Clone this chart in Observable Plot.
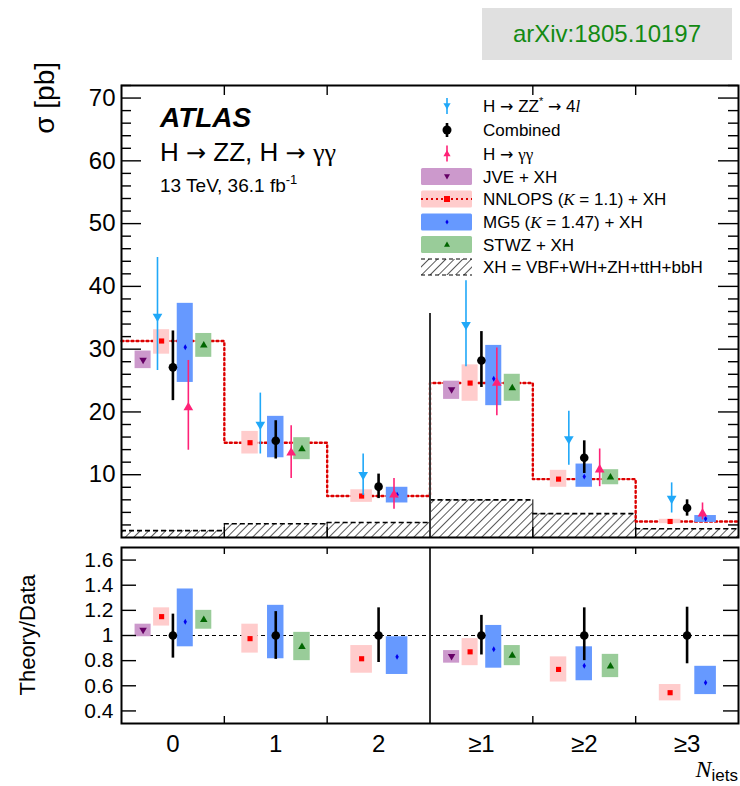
<!DOCTYPE html>
<html><head><meta charset="utf-8">
<script src="https://cdn.jsdelivr.net/npm/d3@7"></script>
<script src="https://cdn.jsdelivr.net/npm/@observablehq/plot@0.6"></script>
<style>
html,body{margin:0;padding:0;background:#fff;}
#wrap{position:relative;width:740px;height:786px;font-family:"Liberation Sans",Arial,sans-serif;overflow:hidden;background:#fff;}
#main{position:absolute;left:0;top:0;}
#ratio{position:absolute;left:0;top:542px;}
#overlay{position:absolute;left:0;top:0;pointer-events:none;}
#arxiv{position:absolute;left:482px;top:8px;width:250px;height:52px;background:#e0e0e0;color:#138a13;font-size:24px;display:flex;align-items:center;justify-content:center;}
</style></head>
<body>
<div id="wrap">
<div id="main"></div>
<div id="ratio"></div>
<svg id="overlay" width="740" height="786" xmlns="http://www.w3.org/2000/svg" font-family="'Liberation Sans', Arial, sans-serif">
<defs><pattern id="hatchL" patternUnits="userSpaceOnUse" width="6" height="6" patternTransform="rotate(45)"><line x1="0" y1="0" x2="0" y2="6" stroke="#000" stroke-width="1.3"/></pattern></defs>
<text transform="translate(54,62) rotate(-90)" text-anchor="end" font-size="28">σ [pb]</text>
<text transform="translate(35,635) rotate(-90)" text-anchor="middle" font-size="22">Theory/Data</text>
<text x="160" y="127" font-size="28" font-weight="bold" font-style="italic">ATLAS</text>
<text x="160" y="161" font-size="26">H <tspan font-family="'DejaVu Sans', sans-serif" font-size="24">→</tspan> ZZ, H <tspan font-family="'DejaVu Sans', sans-serif" font-size="24">→</tspan> <tspan font-family="'Liberation Serif', serif">γγ</tspan></text>
<text x="160" y="192" font-size="19">13 TeV, 36.1 fb<tspan font-size="13" dy="-8">-1</tspan></text>
<g id="legend"></g>
<text x="738" y="777" text-anchor="end"><tspan font-family="'Liberation Serif', serif" font-style="italic" font-size="24">N</tspan><tspan font-size="17" dy="4">iets</tspan></text>
</svg>
<div id="arxiv">arXiv:1805.10197</div>
</div>
<script>
// ---------------- data ----------------
const bins = ["0", "1", "2", "≥1", "≥2", "≥3"];

// measured cross sections [pb]
const combined   = [27.1, 15.4, 8.1, 28.2, 12.7, 4.7];
const combinedLo = [21.8, 12.5, 6.2, 23.9, 10.2, 3.4];
const combinedHi = [32.9, 18.6, 10.1, 32.8, 15.4, 6.0];
const zz   = [35.2, 18.0, 10.0, 33.9, 15.7, 6.2];
const zzLo = [26.6, 13.3, 6.7, 27.2, 11.5, 3.9];
const zzHi = [44.6, 23.0, 13.3, 40.9, 20.1, 8.7];
const gg   = [20.7, 13.5, 6.8, 24.6, 10.8, 3.8];
const ggLo = [13.9, 9.4, 4.5, 19.4, 8.1, 2.8];
const ggHi = [28.2, 17.8, 9.4, 30.2, 14.1, 5.5];

// theory predictions [pb] (null = not shown)
const jve   = [28.3, null, null, 23.6, null, null];
const jveLo = [26.9, null, null, 22.0, null, null];
const jveHi = [29.7, null, null, 24.9, null, null];
const nnlops   = [31.3, 15.1, 6.6, 24.6, 9.3, 2.55];
const nnlopsLo = [29.2, 13.3, 5.6, 21.7, 8.0, 2.2];
const nnlopsHi = [33.1, 16.9, 7.6, 27.5, 10.7, 2.9];
const mg5   = [30.3, 15.4, 6.8, 25.3, 9.7, 3.0];
const mg5Lo = [24.7, 12.7, 5.5, 21.0, 8.0, 2.4];
const mg5Hi = [37.3, 19.3, 8.0, 30.6, 11.7, 3.5];
const stwz   = [30.6, 14.1, null, 23.8, 9.6, null];
const stwzLo = [28.7, 12.4, null, 21.7, 8.4, null];
const stwzHi = [32.5, 15.9, null, 26.0, 10.8, null];
const xh = [1.1, 2.2, 2.4, 6.0, 3.8, 1.4];

// Theory/Data ratios
const rCombLo = [0.82, 0.81, 0.785, 0.845, 0.80, 0.775];
const rCombHi = [1.17, 1.19, 1.22, 1.16, 1.22, 1.225];
const rJve   = [1.045, null, null, 0.835, null, null];
const rJveLo = [0.99, null, null, 0.78, null, null];
const rJveHi = [1.09, null, null, 0.88, null, null];
const rNnlops   = [1.15, 0.975, 0.815, 0.87, 0.73, 0.545];
const rNnlopsLo = [1.075, 0.86, 0.70, 0.76, 0.63, 0.48];
const rNnlopsHi = [1.22, 1.09, 0.92, 0.975, 0.83, 0.61];
const rMg5   = [1.11, 1.0, 0.83, 0.89, 0.76, 0.625];
const rMg5Lo = [0.91, 0.815, 0.69, 0.74, 0.64, 0.53];
const rMg5Hi = [1.37, 1.24, 0.99, 1.08, 0.91, 0.755];
const rStwz   = [1.125, 0.91, null, 0.84, 0.755, null];
const rStwzLo = [1.05, 0.80, null, 0.76, 0.665, null];
const rStwzHi = [1.20, 1.025, null, 0.92, 0.85, null];

const yTicksMain = [10, 20, 30, 40, 50, 60, 70];
const yTicksRatio = [0.4, 0.6, 0.8, 1, 1.2, 1.4, 1.6];

// ---------------- styles / layout ----------------
const FONT = '"Liberation Sans", Arial, sans-serif';
const models = [
  {key: "JVE", c: jve, lo: jveLo, hi: jveHi, rc: rJve, rlo: rJveLo, rhi: rJveHi,
   fill: "#cc99cc", mark: "#660066", symbol: "triangle", rotate: 180, r: 2.8},
  {key: "NNLOPS", c: nnlops, lo: nnlopsLo, hi: nnlopsHi, rc: rNnlops, rlo: rNnlopsLo, rhi: rNnlopsHi,
   fill: "#ffcccc", mark: "#ff0000", symbol: "square", rotate: 0, r: 2.9},
  {key: "MG5", c: mg5, lo: mg5Lo, hi: mg5Hi, rc: rMg5, rlo: rMg5Lo, rhi: rMg5Hi,
   fill: "#6699ff", mark: "#0000ee", symbol: "diamond", rotate: 0, r: 1.8},
  {key: "STWZ", c: stwz, lo: stwzLo, hi: stwzHi, rc: rStwz, rlo: rStwzLo, rhi: rStwzHi,
   fill: "#99cc99", mark: "#006600", symbol: "triangle", rotate: 0, r: 2.8}
];
// box placement inside a bin depends on how many predictions are shown
const layout = {
  4: {offs: [-0.29, -0.11, 0.12, 0.30], hw: 0.078},
  3: {offs: [-0.25, 0.0, 0.255], hw: 0.08},
  2: {offs: [-0.165, 0.18], hw: 0.105}
};
const dataOff = {zz: -0.15, comb: 0, gg: 0.15};
const ZZC = "#20a8f8", GGC = "#ff2277";

function theoryRows(ratio) {
  const rows = [];
  bins.forEach((b, i) => {
    const avail = models.filter(m => m.c[i] != null);
    const L = layout[avail.length];
    avail.forEach((m, j) => {
      const xc = i + 0.5 + L.offs[j];
      rows.push({model: m.key, x: xc, x1: xc - L.hw, x2: xc + L.hw,
        y: ratio ? m.rc[i] : m.c[i], lo: ratio ? m.rlo[i] : m.lo[i], hi: ratio ? m.rhi[i] : m.hi[i]});
    });
  });
  return rows;
}
const mk = (vals, lo, hi, off) => bins.map((b, i) => ({x: i + 0.5 + off, y: vals[i], lo: lo[i], hi: hi[i]}));

const absRows = theoryRows(false);
const ratRows = theoryRows(true);
const zzRows = mk(zz, zzLo, zzHi, dataOff.zz);
const ggRows = mk(gg, ggLo, ggHi, dataOff.gg);
const combRows = mk(combined, combinedLo, combinedHi, dataOff.comb);
const combRatio = mk(bins.map(() => 1), rCombLo, rCombHi, dataOff.comb);
const xhRows = bins.map((b, i) => ({x1: i, x2: i + 1, v: xh[i]}));
const xhEdges = [1, 2, 3, 4, 5].map(e => ({x: e, v: Math.max(xh[e - 1], xh[e])}));
const stepPts = [...bins.map((b, i) => ({x: i, y: nnlops[i]})), {x: 6, y: nnlops[5]}];

function theoryMarks(rows) {
  const out = [];
  for (const m of models) {
    const r = rows.filter(d => d.model === m.key);
    out.push(Plot.rect(r, {x1: "x1", x2: "x2", y1: "lo", y2: "hi", fill: m.fill}));
  }
  for (const m of models) {
    const r = rows.filter(d => d.model === m.key);
    out.push(Plot.dot(r, {x: "x", y: "y", symbol: m.symbol, rotate: m.rotate, r: m.r, fill: m.mark, stroke: "none"}));
  }
  return out;
}

// ---------------- main panel ----------------
const mW = 740, mH = 542, mL = 121, mR = 2, mT = 85, mB = 5;
const pW = mW - mL - mR, pH = mH - mT - mB;
const minor = d3.range(0, 72.01, 2).filter(v => v % 10 !== 0);

const main = Plot.plot({
  width: mW, height: mH, marginLeft: mL, marginRight: mR, marginTop: mT, marginBottom: mB,
  x: {domain: [0, 6], axis: null, label: null},
  y: {domain: [0, 72], axis: null, label: null},
  style: {fontFamily: FONT, background: "transparent", overflow: "visible"},
  marks: [
    Plot.rect(xhRows, {x1: "x1", x2: "x2", y1: 0, y2: "v", fill: "url(#hatch)"}),
    Plot.ruleY(xhRows, {x1: "x1", x2: "x2", y: "v", stroke: "#000", strokeWidth: 1.6, strokeDasharray: "5,3"}),
    Plot.ruleX(xhEdges, {x: "x", y1: 0, y2: "v", stroke: "#000", strokeWidth: 1}),
    Plot.line(stepPts, {x: "x", y: "y", curve: "step-after", stroke: "#dd0000", strokeWidth: 2.4, strokeDasharray: "2,3"}),
    ...theoryMarks(absRows),
    Plot.ruleX(zzRows, {x: "x", y1: "lo", y2: "hi", stroke: ZZC, strokeWidth: 1.6}),
    Plot.dot(zzRows, {x: "x", y: "y", symbol: "triangle", rotate: 180, r: 3.6, fill: ZZC, stroke: "none"}),
    Plot.ruleX(ggRows, {x: "x", y1: "lo", y2: "hi", stroke: GGC, strokeWidth: 1.6}),
    Plot.dot(ggRows, {x: "x", y: "y", symbol: "triangle", r: 3.6, fill: GGC, stroke: "none"}),
    Plot.ruleX(combRows, {x: "x", y1: "lo", y2: "hi", stroke: "#000", strokeWidth: 2.6}),
    Plot.dot(combRows, {x: "x", y: "y", r: 4.3, fill: "#000", stroke: "none"}),
    Plot.ruleX([3], {y1: 0, y2: 35.7, stroke: "#333", strokeWidth: 2}),
    // inward ticks
    Plot.ruleY(yTicksMain, {insetRight: pW - 20, stroke: "#000", strokeWidth: 1.4}),
    Plot.ruleY(minor, {insetRight: pW - 10, stroke: "#000", strokeWidth: 1.4}),
    Plot.ruleY(yTicksMain, {insetLeft: pW - 20, stroke: "#000", strokeWidth: 1.4}),
    Plot.ruleY(minor, {insetLeft: pW - 10, stroke: "#000", strokeWidth: 1.4}),
    Plot.ruleX([1, 2, 4, 5], {insetBottom: pH - 10, stroke: "#000", strokeWidth: 1.4}),
    Plot.ruleX([1, 2, 4, 5], {insetTop: pH - 10, stroke: "#000", strokeWidth: 1.4}),
    Plot.frame({stroke: "#000", strokeWidth: 2}),
    Plot.axisY({ticks: yTicksMain, tickSize: 0, tickPadding: 6, fontSize: 24, label: null})
  ]
});
const defs = document.createElementNS("http://www.w3.org/2000/svg", "defs");
defs.innerHTML = '<pattern id="hatch" patternUnits="userSpaceOnUse" width="6" height="6" patternTransform="rotate(45)"><line x1="0" y1="0" x2="0" y2="6" stroke="#000" stroke-width="1.3"/></pattern>';
main.insertBefore(defs, main.firstChild);
document.getElementById("main").appendChild(main);

// ---------------- ratio panel ----------------
const rH = 244, rT = 5, rB = 63;
const rpH = rH - rT - rB;
const ratio = Plot.plot({
  width: mW, height: rH, marginLeft: mL, marginRight: mR, marginTop: rT, marginBottom: rB,
  x: {domain: [0, 6], axis: null, label: null},
  y: {domain: [0.3, 1.7], axis: null, label: null},
  style: {fontFamily: FONT, background: "transparent", overflow: "visible"},
  marks: [
    Plot.ruleY([1], {stroke: "#000", strokeWidth: 1, strokeDasharray: "4,3"}),
    ...theoryMarks(ratRows),
    Plot.ruleX(combRatio, {x: "x", y1: "lo", y2: "hi", stroke: "#000", strokeWidth: 2.6}),
    Plot.dot(combRatio, {x: "x", y: "y", r: 4.3, fill: "#000", stroke: "none"}),
    Plot.ruleX([3], {stroke: "#333", strokeWidth: 2}),
    Plot.ruleY(yTicksRatio, {insetRight: pW - 15, stroke: "#000", strokeWidth: 1.4}),
    Plot.ruleY(yTicksRatio, {insetLeft: pW - 15, stroke: "#000", strokeWidth: 1.4}),
    Plot.ruleX([1, 2, 4, 5], {insetBottom: rpH - 7, stroke: "#000", strokeWidth: 1.4}),
    Plot.ruleX([1, 2, 4, 5], {insetTop: rpH - 7, stroke: "#000", strokeWidth: 1.4}),
    Plot.frame({stroke: "#000", strokeWidth: 2}),
    Plot.axisY({ticks: yTicksRatio, tickSize: 0, tickPadding: 8, fontSize: 21, label: null, tickFormat: d => String(d)}),
    Plot.axisX({ticks: bins.map((b, i) => i + 0.5), tickSize: 0, tickPadding: 11, fontSize: 24, label: null,
      tickFormat: d => bins[Math.floor(d)]})
  ]
});
document.getElementById("ratio").appendChild(ratio);

// ---------------- legend ----------------
const AR = '<tspan font-family="\'DejaVu Sans\', sans-serif" font-size="16">→</tspan>';
const legendLabels = [
  `H ${AR} ZZ<tspan font-size="11" dy="-7">*</tspan><tspan dy="7"> </tspan>${AR} 4<tspan font-family="'Liberation Serif', serif" font-style="italic">l</tspan>`,
  'Combined',
  `H ${AR} <tspan font-family="'Liberation Serif', serif">γγ</tspan>`,
  'JVE + XH',
  'NNLOPS (<tspan font-family="\'Liberation Serif\', serif" font-style="italic">K</tspan> = 1.1) + XH',
  'MG5 (<tspan font-family="\'Liberation Serif\', serif" font-style="italic">K</tspan> = 1.47) + XH',
  'STWZ + XH',
  'XH = VBF+WH+ZH+ttH+bbH'
];
const rowY = [106, 130, 153.5, 176.5, 199, 222, 244.5, 267];
const sx = 447, bx = 421, bw = 51, bh = 17;
const tri = (cx, cy, s, down) => down
  ? `M${cx - s},${cy - s * 0.75}L${cx + s},${cy - s * 0.75}L${cx},${cy + s}Z`
  : `M${cx - s},${cy + s * 0.75}L${cx + s},${cy + s * 0.75}L${cx},${cy - s}Z`;
let lg = "";
legendLabels.forEach((t, i) => {
  const cy = rowY[i];
  lg += `<text x="483" y="${cy + 6}" font-size="17">${t}</text>`;
});
let cy = rowY[0];
lg += `<line x1="${sx}" x2="${sx}" y1="${cy - 8}" y2="${cy + 8}" stroke="${ZZC}" stroke-width="1.6"/><path d="${tri(sx, cy, 3.6, true)}" fill="${ZZC}"/>`;
cy = rowY[1];
lg += `<line x1="${sx}" x2="${sx}" y1="${cy - 7}" y2="${cy + 7}" stroke="#000" stroke-width="2.6"/><circle cx="${sx}" cy="${cy}" r="4.5" fill="#000"/>`;
cy = rowY[2];
lg += `<line x1="${sx}" x2="${sx}" y1="${cy - 8}" y2="${cy + 8}" stroke="${GGC}" stroke-width="1.6"/><path d="${tri(sx, cy, 3.6, false)}" fill="${GGC}"/>`;
[3, 4, 5, 6].forEach((row, k) => {
  const m = models[k], c = rowY[row];
  lg += `<rect x="${bx}" y="${c - bh / 2}" width="${bw}" height="${bh}" rx="1.5" fill="${m.fill}"/>`;
  if (m.key === "NNLOPS") lg += `<line x1="${bx}" x2="${bx + bw}" y1="${c}" y2="${c}" stroke="#dd0000" stroke-width="2.2" stroke-dasharray="2,3"/><rect x="${sx - 3}" y="${c - 3}" width="6" height="6" fill="${m.mark}"/>`;
  if (m.key === "JVE") lg += `<path d="${tri(sx, c, 3, true)}" fill="${m.mark}"/>`;
  if (m.key === "MG5") lg += `<path d="M${sx},${c - 2.5}L${sx + 1.6},${c}L${sx},${c + 2.5}L${sx - 1.6},${c}Z" fill="${m.mark}"/>`;
  if (m.key === "STWZ") lg += `<path d="${tri(sx, c, 3, false)}" fill="${m.mark}"/>`;
});
cy = rowY[7];
lg += `<rect x="${bx}" y="${cy - 8}" width="${bw}" height="16" fill="url(#hatchL)"/><line x1="${bx}" x2="${bx + bw}" y1="${cy - 8}" y2="${cy - 8}" stroke="#000" stroke-dasharray="4,3"/><line x1="${bx}" x2="${bx + bw}" y1="${cy + 8}" y2="${cy + 8}" stroke="#000" stroke-dasharray="4,3"/>`;
document.getElementById("legend").innerHTML = lg;
</script>
</body></html>
